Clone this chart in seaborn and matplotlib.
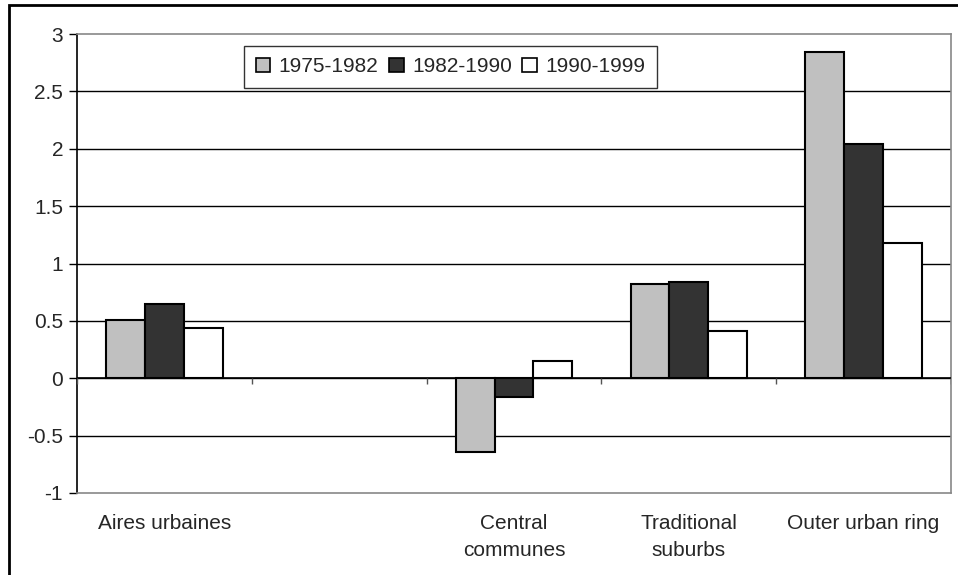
import matplotlib
matplotlib.use("Agg")
from matplotlib import pyplot as plt
from matplotlib.patches import Rectangle
import numpy as np
import pandas as pd
import seaborn as sns

# categories (the second slot is empty in the original chart)
categories = ["Aires urbaines", " ", "Central\ncommunes", "Traditional\nsuburbs", "Outer urban ring"]
periods = ["1975-1982", "1982-1990", "1990-1999"]
colors = ["#C0C0C0", "#333333", "#FFFFFF"]

# values per period, for the non-empty categories
data_cats = ["Aires urbaines", "Central\ncommunes", "Traditional\nsuburbs", "Outer urban ring"]
v_1975_1982 = [0.51, -0.64, 0.82, 2.84]
v_1982_1990 = [0.65, -0.16, 0.84, 2.04]
v_1990_1999 = [0.44, 0.15, 0.41, 1.18]

yticks = [-1, -0.5, 0, 0.5, 1, 1.5, 2, 2.5, 3]
ytick_labels = ["-1", "-0.5", "0", "0.5", "1", "1.5", "2", "2.5", "3"]

df = pd.DataFrame({
    "category": data_cats * 3,
    "period": [periods[0]] * 4 + [periods[1]] * 4 + [periods[2]] * 4,
    "value": v_1975_1982 + v_1982_1990 + v_1990_1999,
})

sns.set_style("white")
plt.rcParams["font.family"] = ["Liberation Sans", "DejaVu Sans"]
FS = 15

fig = plt.figure(figsize=(9.58, 5.75), dpi=100)
ax = fig.add_axes([77 / 958, 1 - 493 / 575, (951 - 77) / 958, (493 - 34) / 575])

sns.barplot(data=df, x="category", y="value", hue="period", order=categories,
            hue_order=periods, palette=colors, width=0.665, edgecolor="black",
            linewidth=1.5, saturation=1, errorbar=None, ax=ax)

ax.set_ylim(-1, 3)
ax.set_xlim(-0.5, len(categories) - 0.5)
ax.set_yticks(yticks)
ax.set_yticklabels(ytick_labels, fontsize=FS)
ax.set_xticks(range(len(categories)))
ax.set_xticklabels(categories, fontsize=FS, linespacing=1.55)
ax.tick_params(axis="x", length=0, pad=15)
ax.tick_params(axis="y", length=6, width=1, color="black", left=True, pad=4)
ax.set_xlabel("")
ax.set_ylabel("")

# gridlines drawn behind bars
for y in yticks[1:-1]:
    ax.axhline(y, color="black", linewidth=1, zorder=0)
ax.axhline(0, color="black", linewidth=1.2, zorder=3)

# category boundary ticks on the zero line
bounds = np.arange(len(categories) + 1) - 0.5
ax.vlines(bounds, -0.05, 0, color="#555555", linewidth=1, zorder=3)

for side in ["top", "right", "bottom"]:
    ax.spines[side].set_color("#888888")
    ax.spines[side].set_linewidth(1.2)
ax.spines["left"].set_color("black")
ax.spines["left"].set_linewidth(1.2)

leg = ax.legend(loc="upper center", bbox_to_anchor=(450.5 / 958, 1 - 46 / 575),
                bbox_transform=fig.transFigure, ncol=3, fontsize=FS, frameon=True,
                fancybox=False, shadow=False, handlelength=0.7, handleheight=0.7,
                handletextpad=0.4, columnspacing=0.5, borderpad=0.55, borderaxespad=0)
leg.get_frame().set_edgecolor("black")
leg.get_frame().set_linewidth(1)
for h in leg.legend_handles:
    h.set_edgecolor("black")
    h.set_linewidth(1.2)

# outer frame of the chart
fig.patches.append(Rectangle((9 / 958, -0.05), 1.2, 1 - 5 / 575 + 0.05,
                             transform=fig.transFigure, fill=False,
                             edgecolor="black", linewidth=2))

fig.savefig("out.png", dpi=100)
